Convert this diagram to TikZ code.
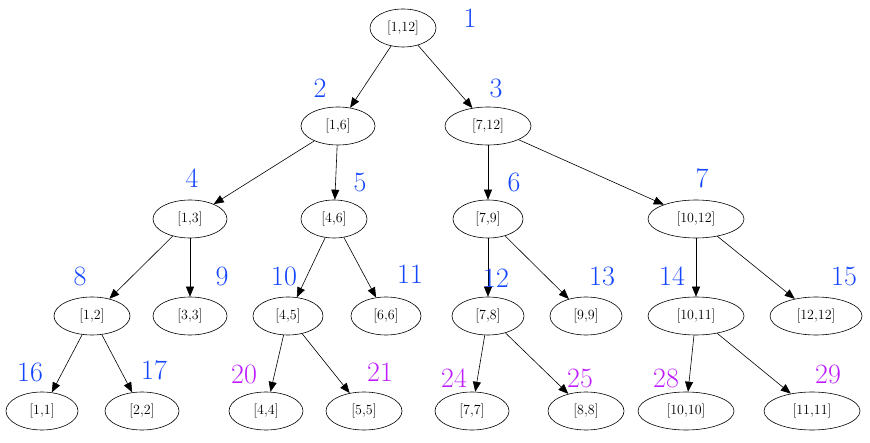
\documentclass[tikz,border=0pt]{standalone}
\usetikzlibrary{shapes.geometric,arrows.meta}
\begin{document}
\begin{tikzpicture}[x=1pt,y=-1pt]
\definecolor{bl}{RGB}{20,70,255}\definecolor{pu}{RGB}{190,30,255}
\tikzset{n/.style={ellipse,draw,semithick,minimum height=38pt,inner sep=1pt,font=\fontsize{14}{16}\selectfont},
 e/.style={-{Triangle[length=10pt,width=8pt]},semithick},
 b/.style={text=bl,font=\fontsize{28}{30}\selectfont},p/.style={text=pu,font=\fontsize{28}{30}\selectfont}}
\useasboundingbox (0,0) rectangle (870,443);
\node[n,minimum width=66pt] (a1) at (403,28) {[1,12]};
\node[n,minimum width=74pt] (a2) at (338,126) {[1,6]};
\node[n,minimum width=86pt] (a3) at (488,126) {[7,12]};
\node[n,minimum width=74pt] (a4) at (190,219) {[1,3]};
\node[n,minimum width=66pt] (a5) at (334,219) {[4,6]};
\node[n,minimum width=70pt] (a6) at (488,219) {[7,9]};
\node[n,minimum width=96pt] (a7) at (696,219) {[10,12]};
\node[n,minimum width=76pt] (a8) at (92,316) {[1,2]};
\node[n,minimum width=74pt] (a9) at (190,316) {[3,3]};
\node[n,minimum width=70pt] (a10) at (288,316) {[4,5]};
\node[n,minimum width=70pt] (a11) at (386,316) {[6,6]};
\node[n,minimum width=72pt] (a12) at (488,316) {[7,8]};
\node[n,minimum width=72pt] (a13) at (586,316) {[9,9]};
\node[n,minimum width=96pt] (a14) at (696,316) {[10,11]};
\node[n,minimum width=92pt] (a15) at (816,316) {[12,12]};
\node[n,minimum width=72pt] (a16) at (42,411) {[1,1]};
\node[n,minimum width=74pt] (a17) at (142,411) {[2,2]};
\node[n,minimum width=74pt] (a20) at (266,411) {[4,4]};
\node[n,minimum width=76pt] (a21) at (364,411) {[5,5]};
\node[n,minimum width=74pt] (a24) at (472,411) {[7,7]};
\node[n,minimum width=76pt] (a25) at (586,411) {[8,8]};
\node[n,minimum width=96pt] (a28) at (686,411) {[10,10]};
\node[n,minimum width=96pt] (a29) at (812,411) {[11,11]};
\foreach \u/\v in {1/2,1/3,2/4,2/5,3/6,3/7,4/8,4/9,5/10,5/11,6/12,6/13,7/14,7/15,8/16,8/17,10/20,10/21,12/24,12/25,14/28,14/29}
  \draw[e] (a\u) -- (a\v);
\node[b] (l1) at (470,18) {1};
\node[b] (l2) at (320,88) {2};
\node[b] (l3) at (496,88) {3};
\node[b] (l4) at (192,178) {4};
\node[b] (l5) at (360,182) {5};
\node[b] (l6) at (514,182) {6};
\node[b] (l7) at (702,178) {7};
\node[b] (l8) at (80,276) {8};
\node[b] (l9) at (222,276) {9};
\node[b] (l10) at (284,276) {10};
\node[b] (l11) at (410,274) {11};
\node[b] (l12) at (496,278) {12};
\node[b] (l13) at (602,276) {13};
\node[b] (l14) at (672,276) {14};
\node[b] (l15) at (844,276) {15};
\node[b] (l16) at (30,372) {16};
\node[b] (l17) at (154,370) {17};
\node[p] (l20) at (244,374) {20};
\node[p] (l21) at (380,372) {21};
\node[p] (l24) at (454,378) {24};
\node[p] (l25) at (580,378) {25};
\node[p] (l28) at (666,378) {28};
\node[p] (l29) at (828,374) {29};
\end{tikzpicture}
\end{document}
